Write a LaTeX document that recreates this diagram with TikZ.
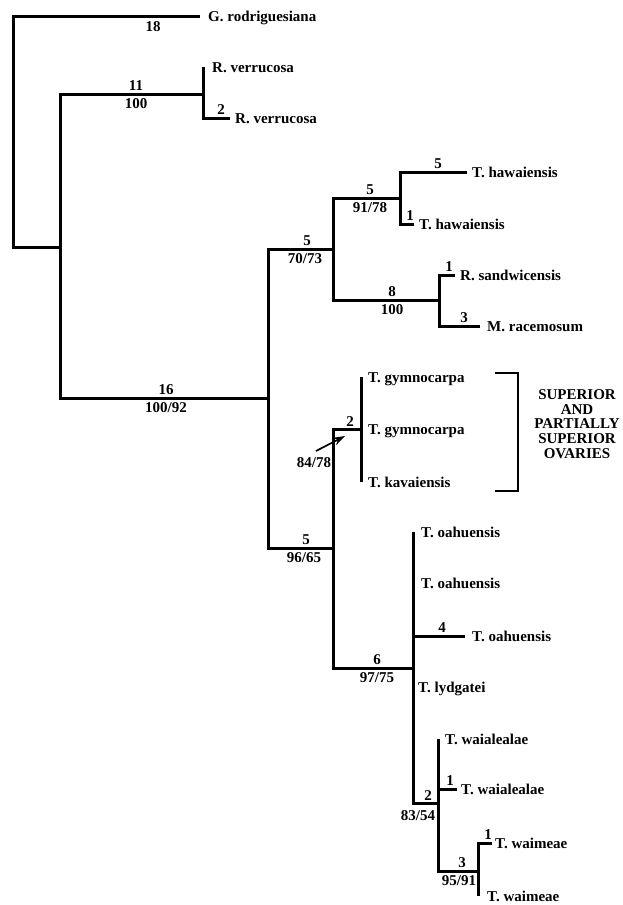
\documentclass[tikz,border=0pt]{standalone}
\usepackage{fontspec}
\setmainfont{Liberation Serif}
\usetikzlibrary{arrows.meta}
\begin{document}
\begin{tikzpicture}[x=1pt,y=-1pt,
  br/.style={line width=3pt, line join=miter, line cap=butt},
  leaf/.style={anchor=base west, inner sep=0pt, font=\fontsize{15}{17}\selectfont\bfseries},
  num/.style={anchor=base, inner sep=0pt, font=\fontsize{15}{17}\selectfont\bfseries},
  brk/.style={line width=2.2pt, line join=miter},
  note/.style={align=center, inner sep=0pt, font=\fontsize{15}{14.7}\selectfont\bfseries},
  pointer/.style={line width=1.7pt, -{Stealth[length=12pt,width=8pt]}}
]
\useasboundingbox (0,0) rectangle (622,905);

% ---- tree coordinates ----
\coordinate (Gt) at (200,16);
\coordinate (R) at (13,100);
\coordinate (A) at (60,247);
\coordinate (Bn) at (203,94);
\coordinate (RV1t) at (203,67);
\coordinate (RV2t) at (230,118);
\coordinate (C) at (268,398);
\coordinate (D) at (333,249);
\coordinate (E) at (333,548);
\coordinate (F) at (400,198);
\coordinate (TH1t) at (467,172);
\coordinate (TH2t) at (414,224);
\coordinate (Gn) at (439,300);
\coordinate (RSt) at (455,275);
\coordinate (MRt) at (480,326);
\coordinate (H) at (361,429);
\coordinate (TG1t) at (361,377);
\coordinate (TG2t) at (361,429);
\coordinate (TKt) at (361,482);
\coordinate (I) at (413,668);
\coordinate (TO1t) at (413,532);
\coordinate (TO2t) at (413,583);
\coordinate (TO3t) at (465,636);
\coordinate (TLt) at (413,687);
\coordinate (J) at (438,803);
\coordinate (TW1t) at (438,739);
\coordinate (TW2t) at (457,789);
\coordinate (K) at (478,871);
\coordinate (WM1t) at (492,843);
\coordinate (WM2t) at (478,896);

% ---- branches ----
\draw[br] (Gt) -| (R) |- (A);
\draw[br] (Bn) -| (A) |- (C);
\draw[br] (RV1t) |- (RV2t);
\draw[br] (D) -| (C) |- (E);
\draw[br] (F) -| (D) |- (Gn);
\draw[br] (TH1t) -| (F) |- (TH2t);
\draw[br] (RSt) -| (Gn) |- (MRt);
\draw[br] (H) -| (E) |- (I);
\draw[br] (TG1t) -- (TKt);
\draw[br] (TO1t) |- (J);
\draw[br] (I |- TO3t) -- (TO3t);
\draw[br] (TW1t) |- (K);
\draw[br] (J |- TW2t) -- (TW2t);
\draw[br] (WM1t) -| (WM2t);

% ---- leaf labels ----
\node[leaf] (lG) at ([shift={(8,5)}]Gt) {G. rodriguesiana};
\node[leaf] (lRV1) at ([shift={(9,5)}]RV1t) {R. verrucosa};
\node[leaf] (lRV2) at ([shift={(5,5)}]RV2t) {R. verrucosa};
\node[leaf] (lTH1) at ([shift={(5,5)}]TH1t) {T. hawaiensis};
\node[leaf] (lTH2) at ([shift={(5,5)}]TH2t) {T. hawaiensis};
\node[leaf] (lRS) at ([shift={(5,5)}]RSt) {R. sandwicensis};
\node[leaf] (lMR) at ([shift={(7,5)}]MRt) {M. racemosum};
\node[leaf] (lTG1) at ([shift={(7,5)}]TG1t) {T. gymnocarpa};
\node[leaf] (lTG2) at ([shift={(7,5)}]TG2t) {T. gymnocarpa};
\node[leaf] (lTK) at ([shift={(7,5)}]TKt) {T. kavaiensis};
\node[leaf] (lTO1) at ([shift={(8,5)}]TO1t) {T. oahuensis};
\node[leaf] (lTO2) at ([shift={(8,5)}]TO2t) {T. oahuensis};
\node[leaf] (lTO3) at ([shift={(7,5)}]TO3t) {T. oahuensis};
\node[leaf] (lTL) at ([shift={(5,5)}]TLt) {T. lydgatei};
\node[leaf] (lTW1) at ([shift={(7,5)}]TW1t) {T. waialealae};
\node[leaf] (lTW2) at ([shift={(4,5)}]TW2t) {T. waialealae};
\node[leaf] (lWM1) at ([shift={(3,5)}]WM1t) {T. waimeae};
\node[leaf] (lWM2) at ([shift={(9,5)}]WM2t) {T. waimeae};

% ---- branch numbers ----
\node[num] (n18) at (153,31) {18};
\node[num] (n11) at (136,90) {11};
\node[num] (n100a) at (136,108) {100};
\node[num] (n2a) at (221,114) {2};
\node[num] (n16) at (166,394) {16};
\node[num] (n10092) at (166,412) {100/92};
\node[num] (n5a) at (307,245) {5};
\node[num] (n7073) at (305,263) {70/73};
\node[num] (n5b) at (370,194) {5};
\node[num] (n9178) at (370,212) {91/78};
\node[num] (n5c) at (438,168) {5};
\node[num] (n1a) at (410,220) {1};
\node[num] (n8) at (392,296) {8};
\node[num] (n100b) at (392,314) {100};
\node[num] (n1b) at (449,271) {1};
\node[num] (n3a) at (464,322) {3};
\node[num] (n2b) at (350,426) {2};
\node[num] (n8478) at (314,467) {84/78};
\node[num] (n5d) at (306,544) {5};
\node[num] (n9665) at (304,562) {96/65};
\node[num] (n6) at (377,664) {6};
\node[num] (n9775) at (377,682) {97/75};
\node[num] (n4) at (442,632) {4};
\node[num] (n2c) at (428,800) {2};
\node[num] (n8354) at (418,820) {83/54};
\node[num] (n1c) at (450,785) {1};
\node[num] (n3b) at (462,867) {3};
\node[num] (n9591) at (459,885) {95/91};
\node[num] (n1d) at (488,839) {1};

% ---- pointer arrow ----
\coordinate (arS) at (316,451);
\coordinate (arT) at (345,436);
\draw[pointer] (arS) -- (arT);

% ---- bracket and note ----
\coordinate (bk1) at (495,373);
\coordinate (bk2) at (518,373);
\coordinate (bk3) at (518,491);
\coordinate (bk4) at (495,491);
\draw[brk] (bk1) -- (bk2) -- (bk3) -- (bk4);
\node[note] (ovar) at (577,424) {SUPERIOR\\AND\\PARTIALLY\\SUPERIOR\\OVARIES};
\end{tikzpicture}
\end{document}
